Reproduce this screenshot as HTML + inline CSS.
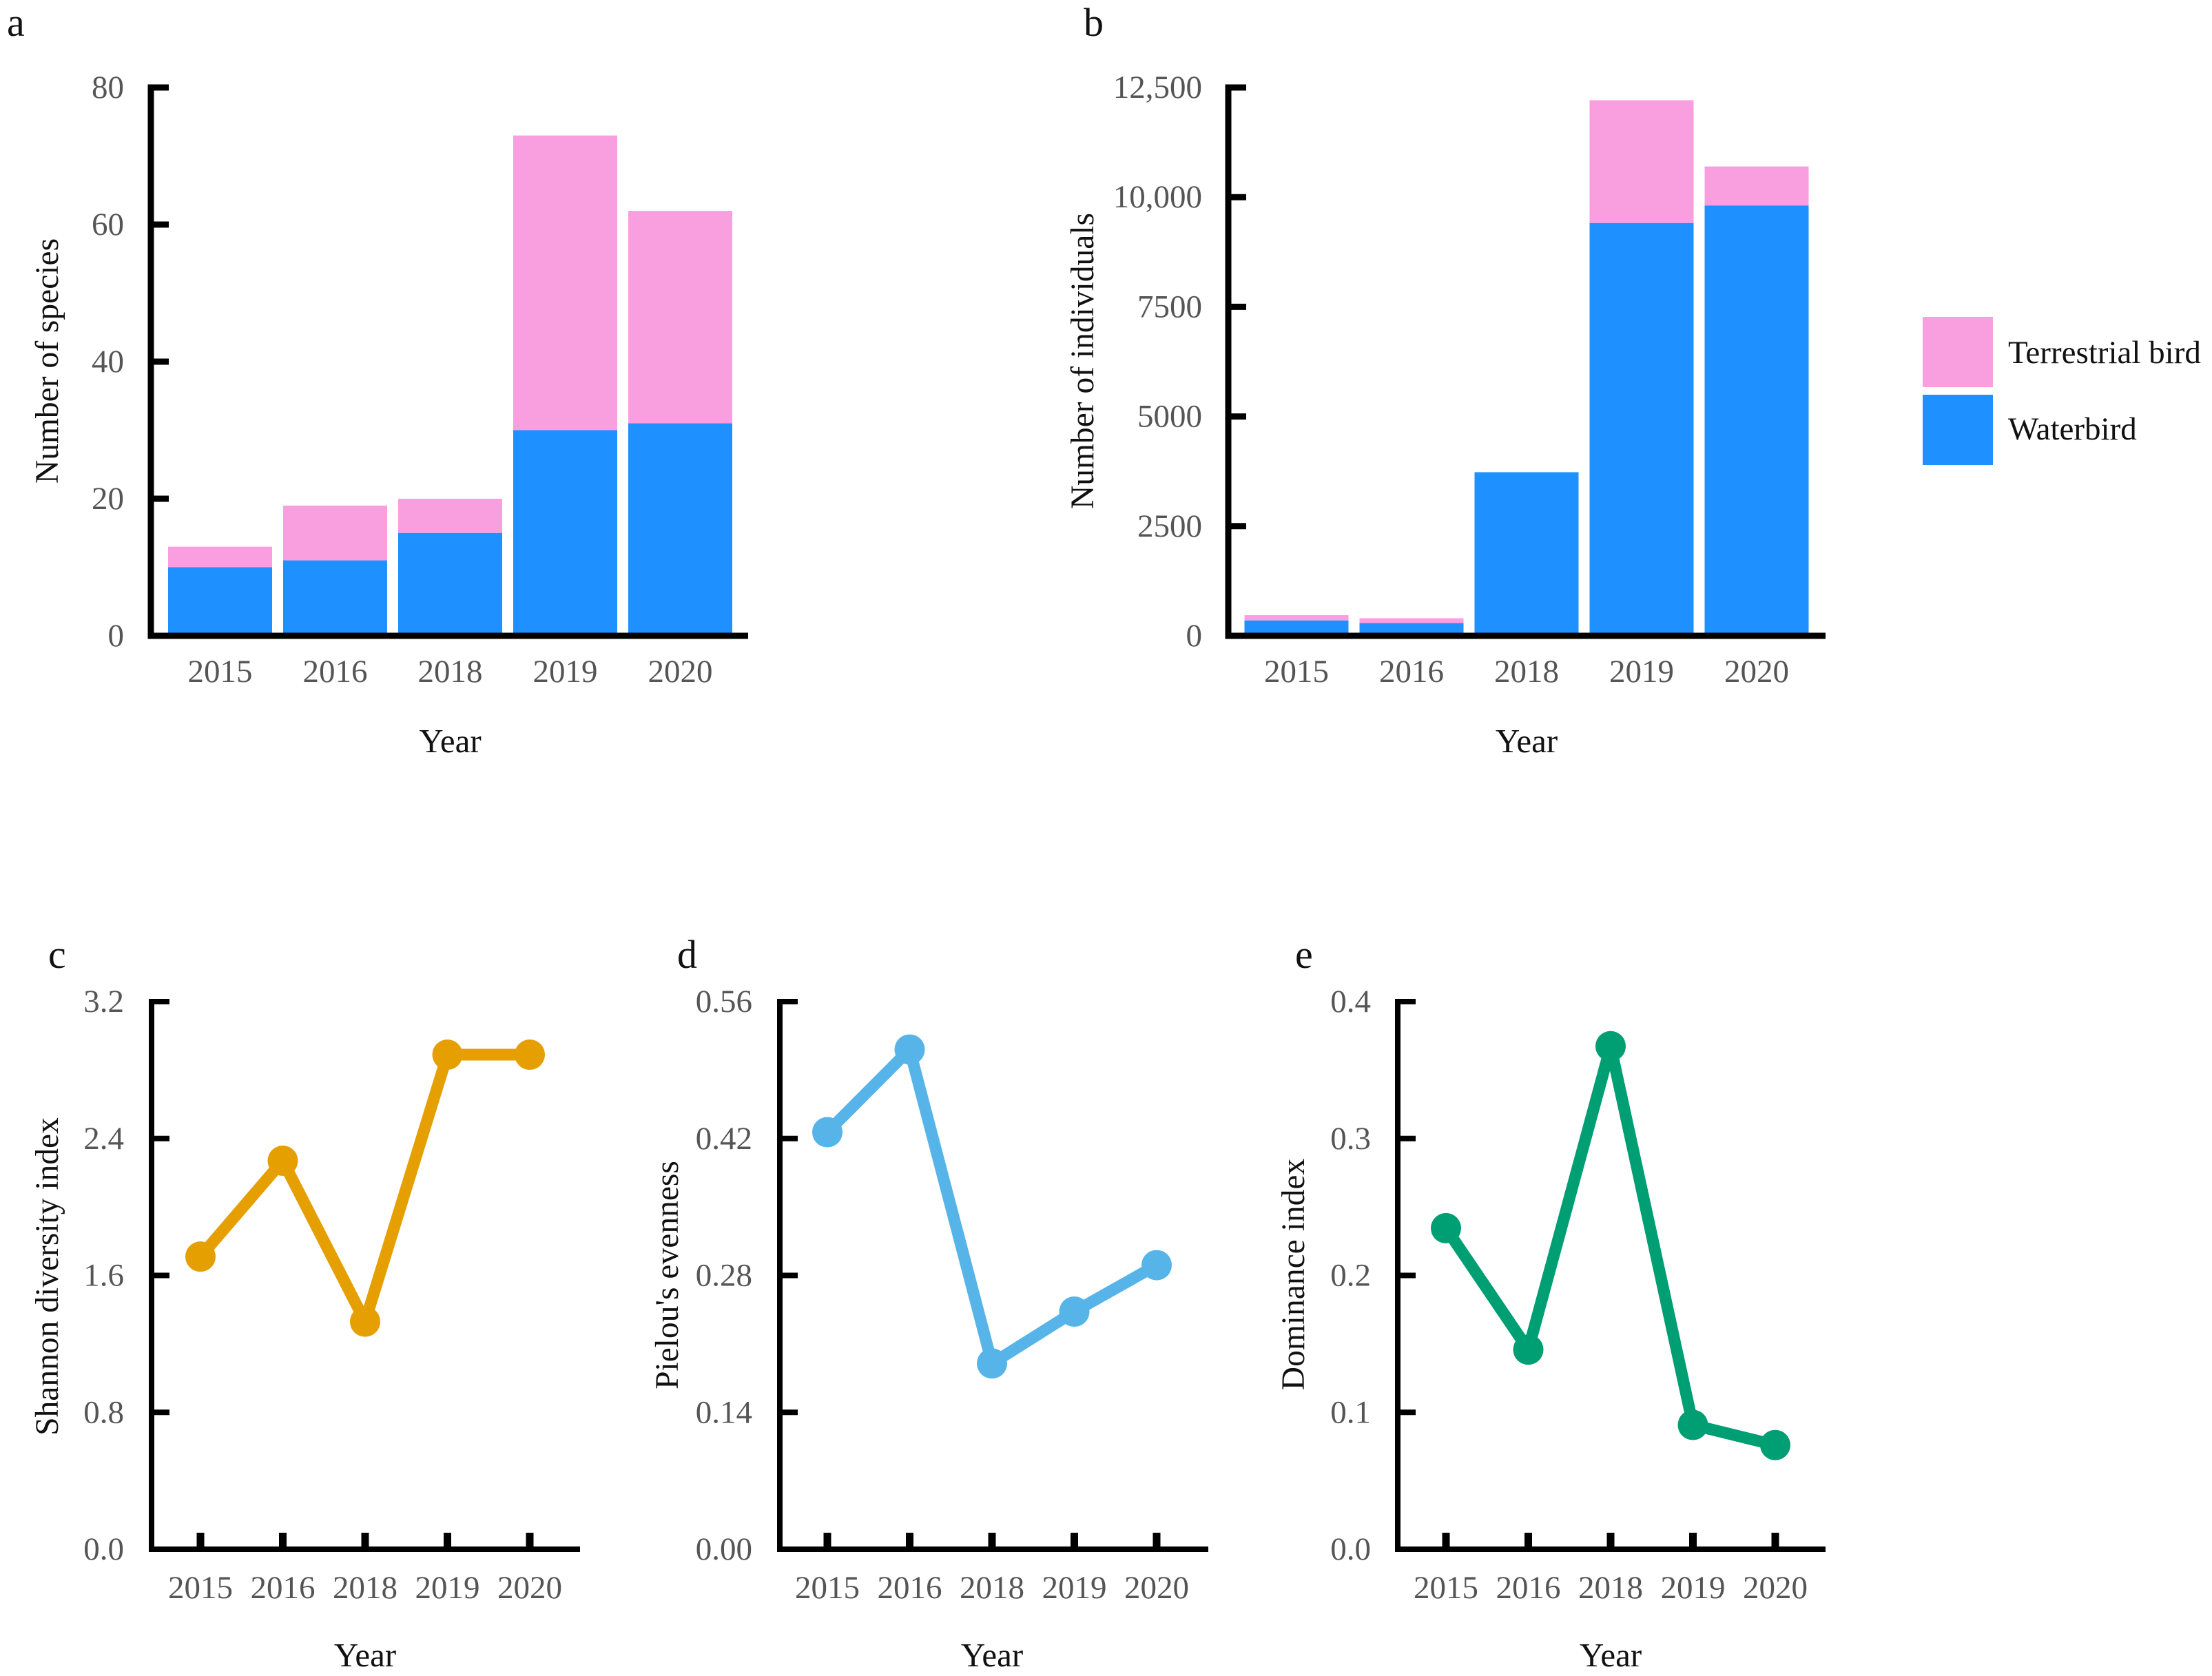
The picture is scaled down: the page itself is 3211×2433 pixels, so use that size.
<!DOCTYPE html>
<html lang="en">
<head>
<meta charset="utf-8">
<title>Bird community charts</title>
<style>
html,body{margin:0;padding:0;background:#fff;width:3211px;height:2433px;overflow:hidden}
svg{display:block}
text{font-family:"Liberation Serif",serif}
</style>
</head>
<body>
<svg id="figure" xmlns="http://www.w3.org/2000/svg" width="3211" height="2433" viewBox="0 0 3211 2433">
  <rect width="3211" height="2433" fill="#fff"/>
  <g id="legend">
    <rect x="2791" y="460" width="102" height="102" fill="#F99FE0"/>
    <rect x="2791" y="573" width="102" height="102" fill="#1E90FF"/>
    <text x="2915" y="527" font-size="47" fill="#111">Terrestrial bird</text>
    <text x="2915" y="638" font-size="47" fill="#111">Waterbird</text>
  </g>
</svg>
<script>
const years = ['2015', '2016', '2018', '2019', '2020'];

const speciesWaterbird = [10, 11, 15, 30, 31];
const speciesTerrestrial = [3, 8, 5, 43, 31];
const speciesTicks = [0, 20, 40, 60, 80];
const speciesTickLabels = ['0', '20', '40', '60', '80'];

const individualsWaterbird = [350, 290, 3730, 9410, 9810];
const individualsTerrestrial = [120, 110, 0, 2800, 890];
const individualsTicks = [0, 2500, 5000, 7500, 10000, 12500];
const individualsTickLabels = ['0', '2500', '5000', '7500', '10,000', '12,500'];

const shannonValues = [1.71, 2.27, 1.33, 2.89, 2.89];
const shannonTicks = [0, 0.8, 1.6, 2.4, 3.2];
const shannonTickLabels = ['0.0', '0.8', '1.6', '2.4', '3.2'];

const evennessValues = [0.4265, 0.511, 0.19, 0.243, 0.2905];
const evennessTicks = [0, 0.14, 0.28, 0.42, 0.56];
const evennessTickLabels = ['0.00', '0.14', '0.28', '0.42', '0.56'];

const dominanceValues = [0.2345, 0.1458, 0.3674, 0.0908, 0.0761];
const dominanceTicks = [0, 0.1, 0.2, 0.3, 0.4];
const dominanceTickLabels = ['0.0', '0.1', '0.2', '0.3', '0.4'];

const NS = 'http://www.w3.org/2000/svg';
const root = document.getElementById('figure');
const TICK_GREY = '#555';
const TITLE_INK = '#111';

function makeLine(parent, x1, y1, x2, y2, stroke, width, name) {
  const el = document.createElementNS(NS, 'line');
  el.setAttribute('x1', x1);
  el.setAttribute('y1', y1);
  el.setAttribute('x2', x2);
  el.setAttribute('y2', y2);
  el.setAttribute('stroke', stroke);
  el.setAttribute('stroke-width', width);
  
  
  parent.appendChild(el);
  return el;
}

function makeText(parent, x, y, content, size, fill, anchor, name, rotate) {
  const el = document.createElementNS(NS, 'text');
  el.setAttribute('x', x);
  el.setAttribute('y', y);
  el.setAttribute('font-size', size);
  el.setAttribute('fill', fill);
  el.setAttribute('text-anchor', anchor);
  if (rotate) el.setAttribute('transform', 'rotate(-90 ' + x + ' ' + y + ')');
  el.textContent = content;
  
  
  parent.appendChild(el);
  return el;
}

function makeRect(parent, x, y, w, h, fill, name) {
  const el = document.createElementNS(NS, 'rect');
  el.setAttribute('x', x);
  el.setAttribute('y', y);
  el.setAttribute('width', w);
  el.setAttribute('height', h);
  el.setAttribute('fill', fill);
  
  
  parent.appendChild(el);
  return el;
}

function makeGroup(name) {
  const g = document.createElementNS(NS, 'g');
  
  
  root.appendChild(g);
  return g;
}

function linearScale(d0, d1, r0, r1) {
  return function (v) { return r0 + (v - d0) / (d1 - d0) * (r1 - r0); };
}

function drawFrame(g, o, yScale, ticks, tickLabels, xScale) {
  makeLine(g, o.axisX, o.topY - o.axisW / 2, o.axisX, o.zeroY + o.axisW / 2, '#000', o.axisW, 'y-axis-line');
  makeLine(g, o.axisX - o.axisW / 2, o.zeroY, o.xEnd, o.zeroY, '#000', o.axisW, 'x-axis-line');
  ticks.forEach(function (t, i) {
    const y = yScale(t);
    makeLine(g, o.axisX, y, o.axisX + 26, y, '#000', o.axisW, 'y-tick-' + tickLabels[i]);
    makeText(g, o.labelRight, y + 15, tickLabels[i], 47, TICK_GREY, 'end', 'y-tick-label-' + tickLabels[i]);
  });
  years.forEach(function (yr, i) {
    const x = xScale(i);
    if (o.xTicks) makeLine(g, x, o.zeroY, x, o.zeroY - 24, '#000', 11, 'x-tick-' + yr);
    makeText(g, x, o.xLabelY, yr, 47, TICK_GREY, 'middle', 'x-tick-label-' + yr);
  });
  makeText(g, xScale(2), o.xTitleY, 'Year', 49, TITLE_INK, 'middle', 'x-axis-title');
  makeText(g, o.yTitleX, o.yTitleY, o.yTitle, 47.5, TITLE_INK, 'middle', 'y-axis-title', true);
  makeText(g, o.letterX, o.letterY, o.letter, 58, TITLE_INK, 'start', 'panel-label-' + o.letter);
}

function drawStacked(o, water, terrestrial, ticks, tickLabels) {
  const g = makeGroup('panel-' + o.letter);
  const yScale = linearScale(ticks[0], ticks[ticks.length - 1], o.zeroY, o.topY);
  const xScale = function (i) { return o.firstX + i * o.stepX; };
  years.forEach(function (yr, i) {
    const x = xScale(i) - o.barW / 2;
    const yWater = yScale(water[i]);
    const yTotal = yScale(water[i] + terrestrial[i]);
    if (terrestrial[i] > 0) makeRect(g, x, yTotal, o.barW, yWater - yTotal, '#F99FE0', 'bar-terrestrial-' + yr);
    makeRect(g, x, yWater, o.barW, o.zeroY - yWater, '#1E90FF', 'bar-waterbird-' + yr);
  });
  drawFrame(g, o, yScale, ticks, tickLabels, xScale);
}

function drawLine(o, values, ticks, tickLabels, color) {
  const g = makeGroup('panel-' + o.letter);
  const yScale = linearScale(ticks[0], ticks[ticks.length - 1], o.zeroY, o.topY);
  const xScale = function (i) { return o.firstX + i * o.stepX; };
  drawFrame(g, o, yScale, ticks, tickLabels, xScale);
  const pts = values.map(function (v, i) { return xScale(i) + ',' + yScale(v); }).join(' ');
  const poly = document.createElementNS(NS, 'polyline');
  poly.setAttribute('points', pts);
  poly.setAttribute('fill', 'none');
  poly.setAttribute('stroke', color);
  poly.setAttribute('stroke-width', 17);
  poly.setAttribute('stroke-linejoin', 'miter');
  
  
  g.appendChild(poly);
  values.forEach(function (v, i) {
    const c = document.createElementNS(NS, 'circle');
    c.setAttribute('cx', xScale(i));
    c.setAttribute('cy', yScale(v));
    c.setAttribute('r', 22);
    c.setAttribute('fill', color);
    
    
    g.appendChild(c);
  });
}

drawStacked({
  letter: 'a', letterX: 10, letterY: 52, axisX: 219, axisW: 9, topY: 127, zeroY: 923, xEnd: 1086,
  firstX: 319.5, stepX: 167, barW: 151, labelRight: 180, xLabelY: 990, xTitleY: 1092,
  yTitle: 'Number of species', yTitleX: 84, yTitleY: 524, xTicks: false
}, speciesWaterbird, speciesTerrestrial, speciesTicks, speciesTickLabels);

drawStacked({
  letter: 'b', letterX: 1573, letterY: 52, axisX: 1783, axisW: 9, topY: 127, zeroY: 923, xEnd: 2650,
  firstX: 1882, stepX: 167, barW: 151, labelRight: 1745, xLabelY: 990, xTitleY: 1092,
  yTitle: 'Number of individuals', yTitleX: 1587, yTitleY: 524, xTicks: false
}, individualsWaterbird, individualsTerrestrial, individualsTicks, individualsTickLabels);

drawLine({
  letter: 'c', letterX: 70, letterY: 1405, axisX: 220, axisW: 8, topY: 1454, zeroY: 2249, xEnd: 842,
  firstX: 291, stepX: 119.5, labelRight: 180, xLabelY: 2320, xTitleY: 2419,
  yTitle: 'Shannon diversity index', yTitleX: 84, yTitleY: 1853, xTicks: true
}, shannonValues, shannonTicks, shannonTickLabels, '#E69F00');

drawLine({
  letter: 'd', letterX: 983, letterY: 1405, axisX: 1132, axisW: 8, topY: 1454, zeroY: 2249, xEnd: 1754,
  firstX: 1201, stepX: 119.5, labelRight: 1092, xLabelY: 2320, xTitleY: 2419,
  yTitle: "Pielou's evenness", yTitleX: 984, yTitleY: 1851, xTicks: true
}, evennessValues, evennessTicks, evennessTickLabels, '#56B4E9');

drawLine({
  letter: 'e', letterX: 1880, letterY: 1405, axisX: 2029, axisW: 8, topY: 1454, zeroY: 2249, xEnd: 2650,
  firstX: 2099, stepX: 119.5, labelRight: 1990, xLabelY: 2320, xTitleY: 2419,
  yTitle: 'Dominance index', yTitleX: 1893, yTitleY: 1850, xTicks: true
}, dominanceValues, dominanceTicks, dominanceTickLabels, '#009E73');
</script>
</body>
</html>
